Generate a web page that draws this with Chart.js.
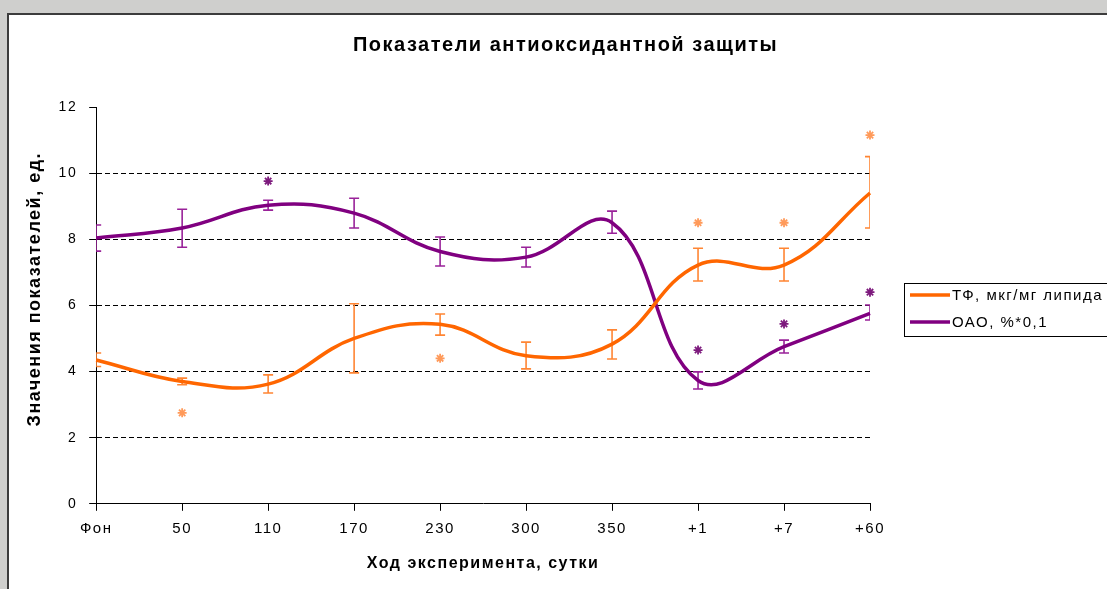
<!DOCTYPE html>
<html>
<head>
<meta charset="utf-8">
<script src="https://cdn.jsdelivr.net/npm/chart.js@4"></script>
<style>
  html, body { margin: 0; padding: 0; }
  body { width: 1107px; height: 589px; overflow: hidden; background: #cfcfcd; position: relative; }
  #frame { position: absolute; left: 7px; top: 13px; width: 1140px; height: 600px; background: #fff;
           border-left: 2px solid #3c3c3c; border-top: 2px solid #3c3c3c; overflow: hidden; }
  #wrap { position: absolute; left: 0; top: 0; width: 1098px; height: 580px; }
</style>
</head>
<body>
<div id="frame"><div id="wrap"><canvas id="AntiOx"></canvas></div></div>
<script>
var categories = ['Фон', '50', '110', '170', '230', '300', '350', '+1', '+7', '+60'];

var tfValues = [4.35, 3.7, 3.62, 5.0, 5.43, 4.48, 4.83, 7.22, 7.22, 9.4];
var tfHigh   = [4.56, 3.8, 3.9, 6.05, 5.74, 4.89, 5.26, 7.73, 7.73, 10.5];
var tfLow    = [4.15, 3.6, 3.35, 3.96, 5.1, 4.08, 4.38, 6.74, 6.74, 8.34];
var tfStars  = [null, 2.75, null, null, 4.4, null, null, 8.5, 8.5, 11.15];

var oaoValues = [8.04, 8.34, 9.03, 8.79, 7.63, 7.46, 8.5, 3.73, 4.75, 5.76];
var oaoHigh   = [8.43, 8.91, 9.18, 9.24, 8.07, 7.76, 8.85, 3.99, 4.95, 6.01];
var oaoLow    = [7.64, 7.76, 8.88, 8.34, 7.19, 7.16, 8.18, 3.47, 4.56, 5.56];
var oaoStars  = [null, null, 9.76, null, null, null, null, 4.65, 5.44, 6.4];

var yTicks = [0, 2, 4, 6, 8, 10, 12];

var fontFamily = "'Liberation Sans', Arial, sans-serif";

// the old Excel picture has wide spaced letters
var spacing = {
    id: 'spacing',
    beforeLayout: function (chart) { chart.ctx.letterSpacing = '1.5px'; },
    beforeDraw: function (chart) { chart.ctx.letterSpacing = '1.5px'; }
};

// error bars, clipped to the plot area like in Excel
var errorBars = {
    id: 'errorBars',
    beforeDatasetsDraw: function (chart) {
        var ctx = chart.ctx, area = chart.chartArea, y = chart.scales.y;
        ctx.save();
        ctx.beginPath();
        ctx.rect(area.left, area.top - 20, area.right - area.left, area.bottom - area.top + 20);
        ctx.clip();
        chart.data.datasets.forEach(function (ds, i) {
            if (!ds.errHigh) return;
            var meta = chart.getDatasetMeta(i);
            ctx.strokeStyle = ds.errColor;
            ctx.lineWidth = 1.6;
            meta.data.forEach(function (pt, j) {
                var top = y.getPixelForValue(ds.errHigh[j]);
                var bot = y.getPixelForValue(ds.errLow[j]);
                ctx.beginPath();
                ctx.moveTo(pt.x, top); ctx.lineTo(pt.x, bot);
                ctx.moveTo(pt.x - 5, top); ctx.lineTo(pt.x + 5, top);
                ctx.moveTo(pt.x - 5, bot); ctx.lineTo(pt.x + 5, bot);
                ctx.stroke();
            });
        });
        ctx.restore();
    }
};

// boxed legend to the right of the plot, as in the Excel chart
var boxLegend = {
    id: 'boxLegend',
    afterDraw: function (chart) {
        var ctx = chart.ctx;
        var left = chart.chartArea.right + 34;
        var top = chart.chartArea.top + 176;
        ctx.save();
        ctx.strokeStyle = '#000';
        ctx.lineWidth = 1;
        ctx.strokeRect(Math.round(left) + 0.5, Math.round(top) + 0.5, chart.width, 53);
        ctx.font = '15px ' + fontFamily;
        ctx.textBaseline = 'middle';
        ctx.fillStyle = '#000';
        chart.data.datasets.slice(0, 2).forEach(function (ds, i) {
            var y = top + 12 + i * 27;
            ctx.strokeStyle = ds.borderColor;
            ctx.lineWidth = 3.5;
            ctx.beginPath();
            ctx.moveTo(left + 6, y);
            ctx.lineTo(left + 46, y);
            ctx.stroke();
            ctx.fillText(ds.label, left + 48, y + 1);
        });
        ctx.restore();
    }
};

new Chart(document.getElementById('AntiOx'), {
    type: 'line',
    data: {
        labels: categories,
        datasets: [
            {
                label: 'ТФ, мкг/мг липида',
                data: tfValues,
                errHigh: tfHigh,
                errLow: tfLow,
                errColor: '#ff8533',
                borderColor: '#ff6600',
                backgroundColor: '#ff6600',
                borderWidth: 3.5,
                tension: 0.4,
                pointRadius: 0
            },
            {
                label: 'ОАО, %*0,1',
                data: oaoValues,
                errHigh: oaoHigh,
                errLow: oaoLow,
                errColor: '#992299',
                borderColor: '#800080',
                backgroundColor: '#800080',
                borderWidth: 3.5,
                tension: 0.4,
                pointRadius: 0
            },
            {
                label: 'tfStars',
                data: tfStars,
                showLine: false,
                pointStyle: 'star',
                pointRadius: 4.5,
                borderWidth: 1.8,
                borderColor: '#ff9a5a',
                clip: false
            },
            {
                label: 'oaoStars',
                data: oaoStars,
                showLine: false,
                pointStyle: 'star',
                pointRadius: 4.5,
                borderWidth: 1.8,
                borderColor: '#7d1a7d',
                clip: false
            }
        ]
    },
    options: {
        responsive: true,
        maintainAspectRatio: false,
        animation: false,
        layout: { padding: { left: 15, right: 0, top: 0, bottom: 20 } },
        plugins: {
            title: {
                display: true,
                text: 'Показатели антиоксидантной защиты',
                color: '#000',
                font: { family: fontFamily, size: 20, weight: 'bold' },
                padding: { top: 18, bottom: 50 }
            },
            legend: { display: false },
            tooltip: { enabled: false }
        },
        scales: {
            x: {
                offset: false,
                // room on the right for the legend box, title stays centred on the whole chart
                afterFit: function (axis) { axis.paddingRight = 237; },
                border: { color: '#000', width: 1 },
                grid: { drawOnChartArea: false, tickLength: 7, tickColor: '#000' },
                ticks: { color: '#000', font: { family: fontFamily, size: 15 }, padding: 9, maxRotation: 0 },
                title: {
                    display: true,
                    text: 'Ход эксперимента, сутки',
                    color: '#000',
                    font: { family: fontFamily, size: 16, weight: 'bold' },
                    padding: { top: 7, bottom: 2 }
                }
            },
            y: {
                min: 0,
                max: 12,
                afterBuildTicks: function (axis) {
                    axis.ticks = yTicks.map(function (v) { return { value: v }; });
                },
                border: { color: '#000', width: 1, dash: [5, 3] },
                grid: {
                    color: function (c) { return (c.tick && c.tick.value > 0 && c.tick.value < 12) ? '#000' : 'rgba(0,0,0,0)'; },
                    tickColor: '#000',
                    tickBorderDash: [],
                    tickLength: 7
                },
                ticks: { color: '#000', font: { family: fontFamily, size: 14 }, padding: 12 },
                title: {
                    display: true,
                    text: '     Значения показателей, ед.',
                    color: '#000',
                    font: { family: fontFamily, size: 18, weight: 'bold' },
                    padding: { top: 0, bottom: 1 }
                }
            }
        }
    },
    plugins: [spacing, errorBars, boxLegend]
});
</script>
</body>
</html>
